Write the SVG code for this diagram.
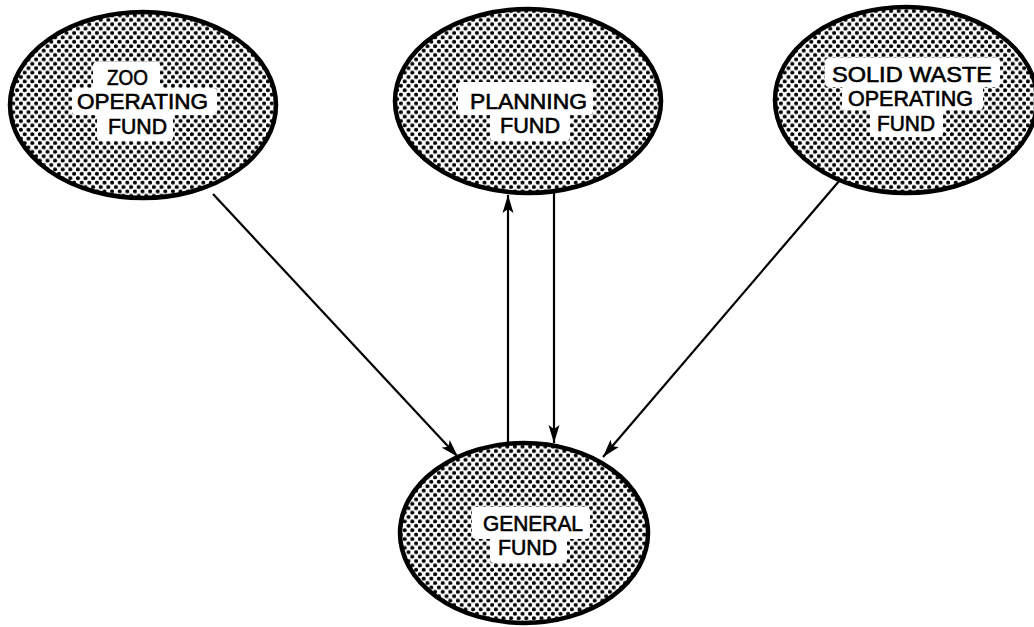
<svg xmlns="http://www.w3.org/2000/svg" width="1034" height="627" viewBox="0 0 1034 627">
<style>
.dots{fill:url(#dots);stroke:#000;stroke-width:4.5}
.lab{fill:#fff;stroke:none}
.t{font-family:"Liberation Sans","Arial",sans-serif;font-size:21.5px;fill:#000;stroke:#000;stroke-width:0.6}
.c{stroke:#000;stroke-width:2.2;fill:none;marker-end:url(#ah)}
</style>
<defs>
<pattern id="dots" patternUnits="userSpaceOnUse" width="7.6" height="8.8">
<rect width="7.6" height="8.8" fill="#fff"/>
<circle cx="1.9" cy="2.2" r="2.05" fill="#000"/>
<circle cx="5.7" cy="6.6" r="2.05" fill="#000"/>
</pattern>
<marker id="ah" markerUnits="userSpaceOnUse" markerWidth="20" markerHeight="12" refX="18" refY="6" orient="auto">
<path d="M0,0.5 L18,6 L0,11.5 L4,6 z" fill="#000"/>
</marker>
</defs>
<rect width="1034" height="627" fill="#fff"/>
<g id="connectors">
<line class="c" x1="213" y1="194" x2="458" y2="457"/>
<line class="c" x1="508" y1="443" x2="508" y2="195"/>
<line class="c" x1="554" y1="193" x2="554" y2="443"/>
<line class="c" x1="840" y1="180" x2="603" y2="457"/>
</g>
<g id="zoo">
<ellipse class="dots" cx="143" cy="105" rx="133" ry="93"/>
<rect class="lab" x="93" y="62" width="67" height="30" rx="4"/>
<rect class="lab" x="72" y="88" width="145" height="27" rx="4"/>
<rect class="lab" x="97" y="113" width="76" height="28" rx="4"/>
<text class="t" x="107" y="84.7" textLength="41" lengthAdjust="spacingAndGlyphs">ZOO</text>
<text class="t" x="77" y="109.2" textLength="131" lengthAdjust="spacingAndGlyphs">OPERATING</text>
<text class="t" x="108" y="133.7" textLength="59" lengthAdjust="spacingAndGlyphs">FUND</text>
</g>
<g id="planning">
<ellipse class="dots" cx="528" cy="101" rx="133" ry="92"/>
<rect class="lab" x="458" y="82" width="135" height="33" rx="4"/>
<rect class="lab" x="490" y="113" width="80" height="28" rx="4"/>
<text class="t" x="470" y="108.95" textLength="117" lengthAdjust="spacingAndGlyphs">PLANNING</text>
<text class="t" x="500" y="133.45" textLength="60" lengthAdjust="spacingAndGlyphs">FUND</text>
</g>
<g id="solidwaste">
<ellipse class="dots" cx="906" cy="100" rx="131" ry="93"/>
<rect class="lab" x="825" y="58" width="175" height="29" rx="4"/>
<rect class="lab" x="842" y="85" width="141" height="25" rx="4"/>
<rect class="lab" x="870" y="108" width="73" height="29" rx="4"/>
<text class="t" x="832" y="81.7" textLength="160" lengthAdjust="spacingAndGlyphs">SOLID WASTE</text>
<text class="t" x="848" y="106.2" textLength="125" lengthAdjust="spacingAndGlyphs">OPERATING</text>
<text class="t" x="877" y="130.7" textLength="58" lengthAdjust="spacingAndGlyphs">FUND</text>
</g>
<g id="general">
<ellipse class="dots" cx="524" cy="533" rx="124" ry="90"/>
<rect class="lab" x="472" y="507" width="118" height="32" rx="4"/>
<rect class="lab" x="490" y="535" width="77" height="28" rx="4"/>
<text class="t" x="483" y="530.95" textLength="100" lengthAdjust="spacingAndGlyphs">GENERAL</text>
<text class="t" x="498" y="555.45" textLength="59" lengthAdjust="spacingAndGlyphs">FUND</text>
</g>
</svg>
